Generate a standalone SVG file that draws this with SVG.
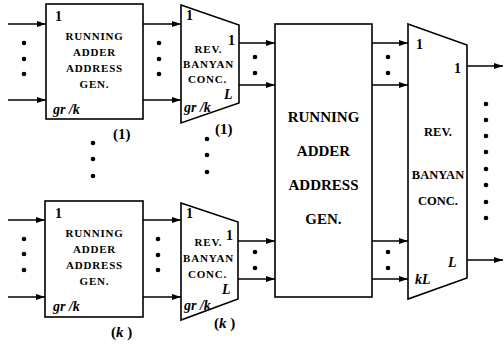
<svg xmlns="http://www.w3.org/2000/svg" width="504" height="344" viewBox="0 0 504 344">
<defs>
<marker id="ah" markerWidth="9" markerHeight="6" refX="9" refY="3" orient="auto" markerUnits="userSpaceOnUse"><path d="M0,0 L9,3 L0,6 Z" fill="#000"/></marker>
</defs>
<style>
.b{fill:#fff;stroke:#000;stroke-width:1.6}
.c line{stroke:#000;stroke-width:1.5}
.a{marker-end:url(#ah)}
text{font-family:"Liberation Serif","Times New Roman",serif;font-weight:bold;fill:#000}
.s{font-size:11px;text-anchor:middle;letter-spacing:0.8px}
.m{font-size:15px;text-anchor:middle}
.t{font-size:12.5px;text-anchor:middle}
.n{font-size:14px}
.i{font-size:14px;font-style:italic}
.p{font-size:15px}
.d{fill:#000}
</style>
<g id="connectors" class="c">
<line class="a" x1="8" y1="24" x2="46" y2="24"/>
<line class="a" x1="8" y1="100" x2="46" y2="100"/>
<line class="a" x1="143" y1="24" x2="181" y2="24"/>
<line class="a" x1="143" y1="100" x2="181" y2="100"/>
<line class="a" x1="239" y1="43" x2="275" y2="43"/>
<line class="a" x1="239" y1="85" x2="275" y2="85"/>
<line class="a" x1="8" y1="220" x2="45" y2="220"/>
<line class="a" x1="8" y1="297" x2="45" y2="297"/>
<line class="a" x1="143" y1="220" x2="181" y2="220"/>
<line class="a" x1="143" y1="297" x2="181" y2="297"/>
<line class="a" x1="238" y1="241" x2="275" y2="241"/>
<line class="a" x1="238" y1="279" x2="275" y2="279"/>
<line class="a" x1="372" y1="43" x2="408" y2="43"/>
<line class="a" x1="372" y1="85" x2="408" y2="85"/>
<line class="a" x1="372" y1="241" x2="408" y2="241"/>
<line class="a" x1="372" y1="279" x2="408" y2="279"/>
<line class="a" x1="467" y1="66" x2="503" y2="66"/>
<line class="a" x1="467" y1="260" x2="503" y2="260"/>
</g>
<g id="dots" class="d">
<circle cx="24" cy="43" r="2.3"/><circle cx="24" cy="59" r="2.3"/><circle cx="24" cy="74" r="2.3"/>
<circle cx="159" cy="43" r="2.3"/><circle cx="159" cy="59" r="2.3"/><circle cx="159" cy="74" r="2.3"/>
<circle cx="24" cy="239" r="2.3"/><circle cx="24" cy="254" r="2.3"/><circle cx="24" cy="270" r="2.3"/>
<circle cx="158" cy="239" r="2.3"/><circle cx="158" cy="255" r="2.3"/><circle cx="158" cy="270" r="2.3"/>
<circle cx="255" cy="57" r="2.3"/><circle cx="255" cy="73" r="2.3"/>
<circle cx="255" cy="252" r="2.3"/><circle cx="255" cy="268" r="2.3"/>
<circle cx="388" cy="57" r="2.3"/><circle cx="388" cy="73" r="2.3"/>
<circle cx="388" cy="252" r="2.3"/><circle cx="388" cy="268" r="2.3"/>
<circle cx="93" cy="143" r="2.3"/><circle cx="93" cy="159" r="2.3"/><circle cx="93" cy="176" r="2.3"/>
<circle cx="207" cy="139" r="2.3"/><circle cx="207" cy="155" r="2.3"/><circle cx="207" cy="172" r="2.3"/>
<circle cx="486" cy="104" r="2.3"/><circle cx="486" cy="120" r="2.3"/><circle cx="486" cy="136" r="2.3"/><circle cx="486" cy="152" r="2.3"/><circle cx="486" cy="169" r="2.3"/><circle cx="486" cy="185" r="2.3"/><circle cx="486" cy="202" r="2.3"/><circle cx="486" cy="218" r="2.3"/>
</g>
<g id="rag1">
<rect class="b" x="46" y="4" width="97" height="115"/>
<text class="n" x="55" y="21">1</text>
<text class="s" x="94.5" y="39.5">RUNNING</text>
<text class="s" x="94.5" y="55.5">ADDER</text>
<text class="s" x="94.5" y="71.5">ADDRESS</text>
<text class="s" x="94.5" y="87.5">GEN.</text>
<text class="i" x="53" y="114">gr /k</text>
<text class="p" x="113" y="139">(1)</text>
</g>
<g id="rbc1">
<polygon class="b" points="181,5 239,25 239,103 181,123"/>
<text class="n" x="186" y="20">1</text>
<text class="n" x="228" y="45">1</text>
<text class="s" x="208.5" y="53">REV.</text>
<text class="s" x="208.5" y="68">BANYAN</text>
<text class="s" x="207.5" y="83">CONC.</text>
<text class="i" x="224" y="99">L</text>
<text class="i" x="184" y="112">gr /k</text>
<text class="p" x="215" y="134">(1)</text>
</g>
<g id="ragk">
<rect class="b" x="45" y="201" width="98" height="116"/>
<text class="n" x="55" y="218">1</text>
<text class="s" x="94.5" y="237">RUNNING</text>
<text class="s" x="94.5" y="253">ADDER</text>
<text class="s" x="94.5" y="269">ADDRESS</text>
<text class="s" x="94.5" y="285">GEN.</text>
<text class="i" x="53" y="311">gr /k</text>
<text class="p" x="111" y="337">(<tspan font-style="italic">k</tspan> )</text>
</g>
<g id="rbck">
<polygon class="b" points="181,203 238,222 238,299 181,320"/>
<text class="n" x="186" y="218">1</text>
<text class="n" x="226" y="240">1</text>
<text class="s" x="208.5" y="246">REV.</text>
<text class="s" x="208.5" y="262">BANYAN</text>
<text class="s" x="207.5" y="278">CONC.</text>
<text class="i" x="222" y="294">L</text>
<text class="i" x="184" y="310">gr /k</text>
<text class="p" x="214" y="328">(<tspan font-style="italic">k</tspan> )</text>
</g>
<g id="ragmain">
<rect class="b" x="275" y="24" width="97" height="273"/>
<text class="m" x="323.5" y="122">RUNNING</text>
<text class="m" x="323.5" y="156">ADDER</text>
<text class="m" x="323.5" y="190">ADDRESS</text>
<text class="m" x="323.5" y="224">GEN.</text>
</g>
<g id="rbcmain">
<polygon class="b" points="408,24 467,45 467,278 408,299"/>
<text class="n" x="416" y="49">1</text>
<text class="n" x="454" y="73">1</text>
<text class="t" x="438" y="136">REV.</text>
<text class="t" x="438" y="179">BANYAN</text>
<text class="t" x="438" y="205">CONC.</text>
<text class="i" x="448" y="267">L</text>
<text class="i" x="415" y="284">kL</text>
</g>
</svg>
